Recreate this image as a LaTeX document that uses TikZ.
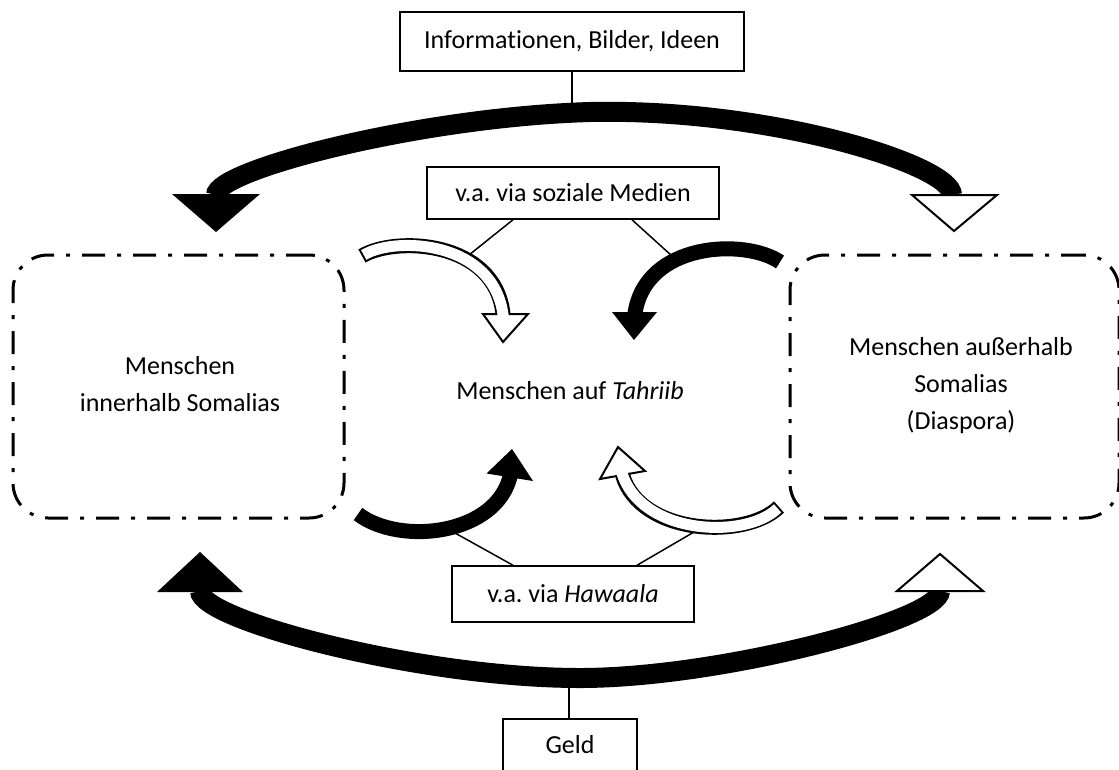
\documentclass[tikz,border=0pt]{standalone}
\usepackage{fontspec}
\setmainfont{Carlito}[Ligatures={NoCommon}]
\frenchspacing
\begin{document}
\begin{tikzpicture}[x=1pt,y=-1pt,
  txt/.style={font=\fontsize{26}{37}\selectfont, align=center, inner sep=0pt},
  labelbox/.style={draw, font=\fontsize{26}{37}\selectfont, inner sep=0pt},
  region/.style={draw, line width=3pt, rounded corners=35pt, inner sep=0pt,
    dash pattern=on 23pt off 12pt on 4pt off 12pt},
  bigarc/.style={line width=20pt},
  shaft/.style={line width=15pt},
  shaftin/.style={white, line width=11pt, shorten <=2pt, shorten >=-3pt},
  thinline/.style={line width=1.5pt},
  hollowhead/.style={draw, fill=white, line width=2pt, line join=miter},
  solidhead/.style={fill=black}
]
\useasboundingbox (0,0) rectangle (1119,769);
\clip (0,0) rectangle (1119,769);

% boxes
\node[labelbox, line width=2.5pt, minimum width=344pt, minimum height=59pt] (info) at (572,41.5) {Informationen, Bilder, Ideen};
\node[labelbox, line width=1.5pt, minimum width=292pt, minimum height=52pt] (soc) at (573,193) {v.a. via soziale Medien};
\node[labelbox, line width=1.5pt, minimum width=242pt, minimum height=56pt] (haw) at (573,594) {v.a. via \textit{Hawaala}};
\node[labelbox, line width=2.5pt, minimum width=134pt, minimum height=52pt] (geld) at (570,745) {Geld};

\node[region, minimum width=331pt, minimum height=263pt] (inn) at (178.5,386.5) {};
\node[txt] (innT) at (180,384) {Menschen\\innerhalb Somalias};
\node[region, minimum width=329pt, minimum height=263pt] (aus) at (954.5,386.5) {};
\node[txt] (ausT) at (961,386) {Menschen außerhalb\\Somalias\\(Diaspora)};
\node[txt] (mid) at (570,391) {Menschen auf \textit{Tahriib}};

% named points on the big arcs
\coordinate (topA) at (572,104);
\coordinate (botA) at (569,682);

% connector lines
\draw[line width=2.5pt] (info.south) -- (topA);
\draw[line width=2.5pt] (geld.north -| botA) -- (botA);
\draw[thinline] ([xshift=-60pt]soc.south) -- (469,255);
\draw[thinline] ([xshift=59pt]soc.south) -- (672,256);
\draw[thinline] ([xshift=-60pt]haw.north) -- (455,533);
\draw[thinline] ([xshift=64pt]haw.north) -- (694,532);

% top big arc
\draw[bigarc] (216,195) .. controls (216,170) and (420,117) .. (590,112)
  .. controls (770,108) and (952,165) .. (952,195);
\fill[solidhead] (172,194) -- (260,194) -- (216,232) -- cycle;
\draw[hollowhead] (912,195) -- (997,195) -- (954,231) -- cycle;

% bottom big arc
\draw[bigarc] (200,591) .. controls (200,620) and (420,678) .. (580,678)
  .. controls (720,678) and (940,620) .. (940,591);
\fill[solidhead] (157,592) -- (243,592) -- (200,552) -- cycle;
\draw[hollowhead] (897,591) -- (983,591) -- (940,554) -- cycle;

% small arrow: top left (hollow)
\draw[hollowhead] (483,314) -- (528,314) -- (503,342) -- cycle;
\draw[shaft] (362,256) .. controls (395,236) and (495,240) .. (503,314);
\draw[shaftin] (362,256) .. controls (395,236) and (495,240) .. (503,314);

% small arrow: top right (black)
\draw[shaft, shorten >=-1pt] (780,262) .. controls (745,238) and (645,242) .. (635,313);
\fill[solidhead] (612,312) -- (657,312) -- (634,340) -- cycle;

% small arrow: bottom left (black)
\draw[shaft, shorten >=-2pt] (358,514) .. controls (400,546) and (497,535) .. (510,477);
\fill[solidhead] (486.5,473.5) -- (533,481) -- (512,449) -- cycle;

% small arrow: bottom right (hollow)
\draw[hollowhead] (600,479) -- (645,471) -- (618,447) -- cycle;
\draw[shaft] (779,507) .. controls (745,540) and (640,535) .. (622.5,475);
\draw[shaftin] (779,507) .. controls (745,540) and (640,535) .. (622.5,475);
\end{tikzpicture}
\end{document}
